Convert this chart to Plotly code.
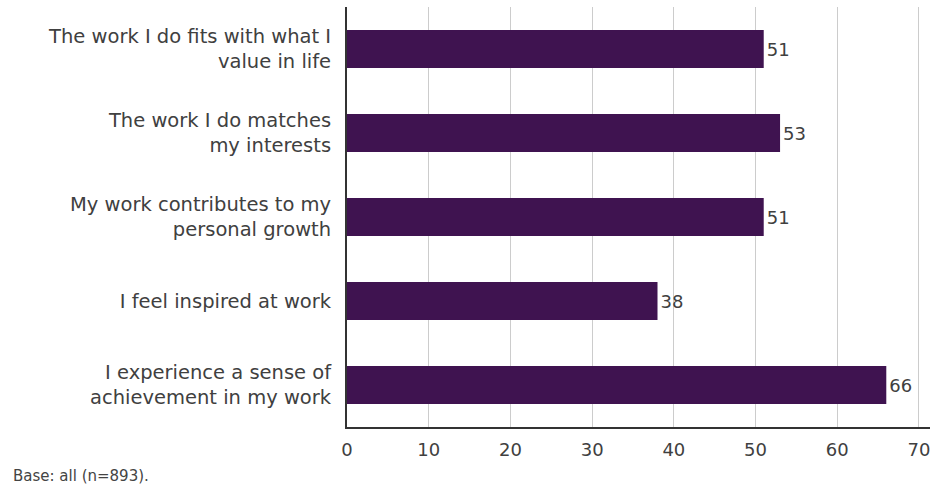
import plotly.graph_objects as go

categories = [
    "The work I do fits with what I<br>value in life",
    "The work I do matches<br>my interests",
    "My work contributes to my<br>personal growth",
    "I feel inspired at work",
    "I experience a sense of<br>achievement in my work",
]
values = [51, 53, 51, 38, 66]
x_ticks = [0, 10, 20, 30, 40, 50, 60, 70]
note = "Base: all (n=893)."

bar_color = "#3f1350"
text_color = "#404040"
FONT = "DejaVu Sans"

fig = go.Figure(
    go.Bar(
        x=values,
        y=categories,
        orientation="h",
        marker=dict(color=bar_color, line=dict(width=0)),
        width=0.455,
        text=[str(v) for v in values],
        textposition="outside",
        textfont=dict(size=18, color=text_color, family=FONT),
        cliponaxis=False,
    )
)

fig.update_layout(
    width=930,
    height=488,
    margin=dict(l=347, r=0, t=7, b=61),
    paper_bgcolor="white",
    plot_bgcolor="white",
    font=dict(family=FONT, color=text_color),
    showlegend=False,
)

fig.update_xaxes(
    range=[0, 71.35],
    tickvals=x_ticks,
    ticktext=[str(t) for t in x_ticks],
    showgrid=True,
    gridcolor="#cccccc",
    gridwidth=1,
    zeroline=False,
    showline=True,
    linecolor="#333333",
    linewidth=2,
    ticks="",
    ticklabelstandoff=5,
    ticklabeloverflow="allow",
    tickfont=dict(size=18, color=text_color, family=FONT),
    fixedrange=True,
)

fig.update_yaxes(
    autorange="reversed",
    showline=True,
    linecolor="#333333",
    linewidth=2,
    showgrid=False,
    ticks="",
    ticklabelstandoff=10,
    tickfont=dict(size=19.5, color=text_color, family=FONT),
)

fig.add_annotation(
    text=note,
    xref="paper",
    yref="paper",
    x=-336 / 583,
    y=-(476 - 427) / 420,
    xanchor="left",
    yanchor="middle",
    showarrow=False,
    font=dict(size=15, color="#444444", family=FONT),
)

fig.write_html("out.html")
